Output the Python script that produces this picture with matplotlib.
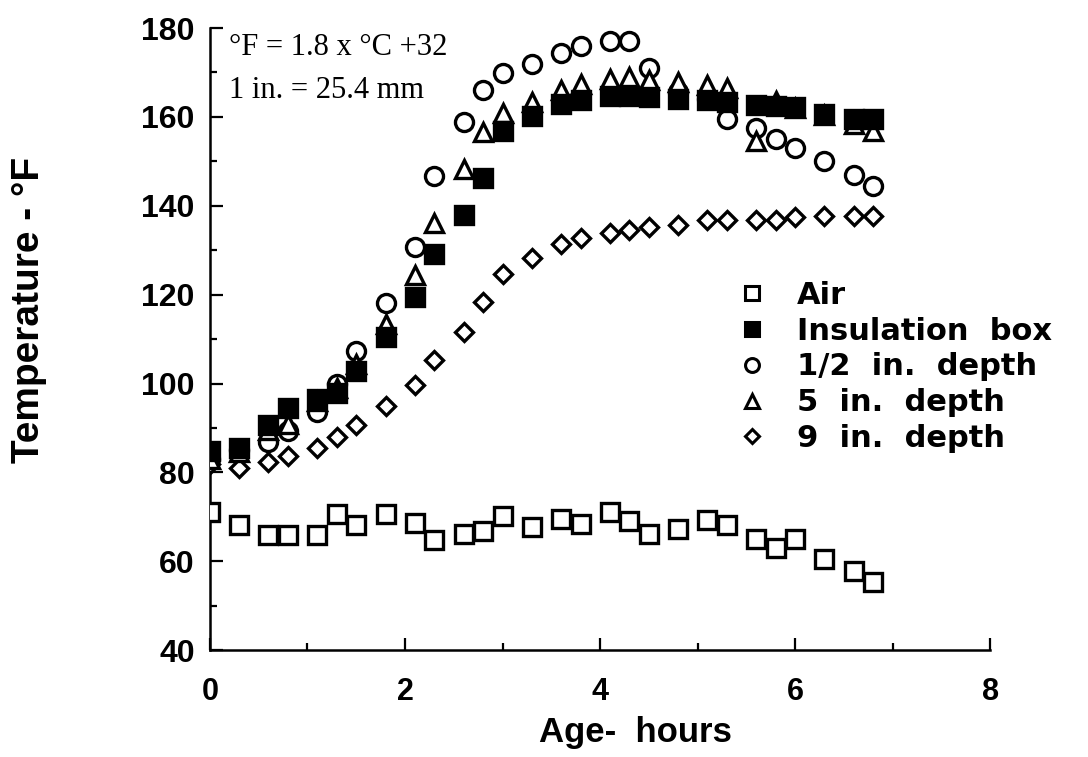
import numpy as np
import matplotlib
matplotlib.use("Agg")
import matplotlib.pyplot as plt
from matplotlib.ticker import MultipleLocator

# sampling times (hours)
age = [0.0, 0.3, 0.6, 0.8, 1.1, 1.3, 1.5, 1.8, 2.1, 2.3, 2.6, 2.8, 3.0, 3.3,
       3.6, 3.8, 4.1, 4.3, 4.5, 4.8, 5.1, 5.3, 5.6, 5.8, 6.0, 6.3, 6.6, 6.8]

# temperatures, deg F
air = [71.1, 68.1, 65.9, 65.9, 65.9, 70.6, 68.1, 70.6, 68.7, 64.8, 66.1, 66.9,
       70.1, 67.8, 69.5, 68.4, 71.1, 69.1, 66.1, 67.2, 69.3, 68.1, 65.0, 63.1,
       65.1, 60.6, 57.9, 55.4]
insulation_box = [84.9, 85.6, 90.7, 94.6, 96.5, 97.9, 102.9, 110.4, 119.4,
                  129.2, 138.0, 146.3, 156.9, 160.3, 162.8, 163.8, 164.8, 164.8,
                  164.5, 164.1, 163.7, 163.3, 162.6, 162.4, 162.2, 160.7, 159.5,
                  159.5]
half_in = [83.0, 85.0, 86.8, 89.4, 93.5, 99.9, 107.4, 118.2, 130.8, 146.7,
           158.8, 166.0, 169.8, 172.0, 174.4, 176.0, 177.0, 177.0, 170.9, 165.5,
           164.0, 159.5, 157.5, 155.0, 153.1, 150.1, 147.0, 144.4]
five_in = [83.0, 84.5, 89.5, 91.0, 96.0, 99.0, 104.5, 113.3, 124.4, 136.1,
           148.2, 156.5, 160.9, 163.3, 166.0, 167.3, 168.6, 169.0, 168.3, 167.9,
           167.1, 166.4, 154.6, 163.5, 162.0, 160.5, 158.5, 156.9]
nine_in = [82.0, 81.1, 82.3, 83.6, 85.4, 87.9, 90.7, 94.9, 99.7, 105.4,
           111.5, 118.3, 124.7, 128.3, 131.4, 132.7, 133.8, 134.5, 135.3, 135.7,
           136.8, 136.8, 136.8, 136.8, 137.4, 137.6, 137.6, 137.6]

fig = plt.figure(figsize=(10.88, 7.57), dpi=100)
ax = fig.add_axes([0.193, 0.141, 0.717, 0.822])

ms = 12.5
mew = 2.4
ax.plot(age, air, linestyle='none', marker='s', ms=ms, mfc='white', mec='black', mew=mew, zorder=3)
ax.plot(age, nine_in, linestyle='none', marker='D', ms=9.5, mfc='white', mec='black', mew=mew, zorder=3)
ax.plot(age, half_in, linestyle='none', marker='o', ms=13, mfc='white', mec='black', mew=mew, zorder=3)
ax.plot(age, five_in, linestyle='none', marker='^', ms=ms, mfc='white', mec='black', mew=mew, zorder=4)
ax.plot(age, insulation_box, linestyle='none', marker='s', ms=ms, mfc='black', mec='black', mew=mew, zorder=5)

# legend built from proxies so the order is fixed
handles = [
    plt.Line2D([], [], linestyle='none', marker='s', ms=10, mfc='white', mec='black', mew=2.2),
    plt.Line2D([], [], linestyle='none', marker='s', ms=10, mfc='black', mec='black', mew=2.2),
    plt.Line2D([], [], linestyle='none', marker='o', ms=10, mfc='white', mec='black', mew=2.2),
    plt.Line2D([], [], linestyle='none', marker='^', ms=10, mfc='white', mec='black', mew=2.2),
    plt.Line2D([], [], linestyle='none', marker='D', ms=7.5, mfc='white', mec='black', mew=2.2),
]
labels = ['Air', 'Insulation  box', '1/2  in.  depth', '5  in.  depth', '9  in.  depth']
ax.legend(handles, labels, loc='upper left', bbox_to_anchor=(0.66, 0.613),
          frameon=False, handletextpad=0.95, labelspacing=0.22, handlelength=1.0,
          borderaxespad=0, prop={'family': 'DejaVu Sans', 'weight': 'bold', 'size': 22})

ax.text(0.025, 0.968, '°F = 1.8 x °C +32', transform=ax.transAxes, va='center',
        ha='left', fontsize=22, family='Liberation Serif')
ax.text(0.025, 0.899, '1 in. = 25.4 mm', transform=ax.transAxes, va='center',
        ha='left', fontsize=22, family='Liberation Serif')

ax.set_xlim(0, 8)
ax.set_ylim(40, 180)
ax.xaxis.set_major_locator(MultipleLocator(2))
ax.xaxis.set_minor_locator(MultipleLocator(1))
ax.yaxis.set_major_locator(MultipleLocator(20))
ax.yaxis.set_minor_locator(MultipleLocator(10))

for side in ['top', 'right']:
    ax.spines[side].set_visible(False)
for side in ['left', 'bottom']:
    ax.spines[side].set_linewidth(1.8)

ax.tick_params(which='major', direction='in', length=9, width=1.6)
ax.tick_params(which='minor', direction='in', length=5, width=1.6)
ax.tick_params(axis='x', which='major', pad=19)
ax.tick_params(axis='y', which='major', pad=11)
for lbl in ax.get_xticklabels():
    lbl.set_fontsize(22)
    lbl.set_fontweight('bold')
    lbl.set_family('Liberation Sans')
for lbl in ax.get_yticklabels():
    lbl.set_fontsize(23)
    lbl.set_fontweight('bold')
    lbl.set_family('Liberation Sans')

ax.set_xlabel('Age-  hours', fontsize=25, fontweight='bold', family='Liberation Sans')
ax.set_ylabel('Temperature - °F', fontsize=28, fontweight='bold', family='Liberation Sans')
ax.xaxis.set_label_coords(0.545, -0.106)
ax.yaxis.set_label_coords(-0.209, 0.547)

fig.savefig('out.png', dpi=100)
